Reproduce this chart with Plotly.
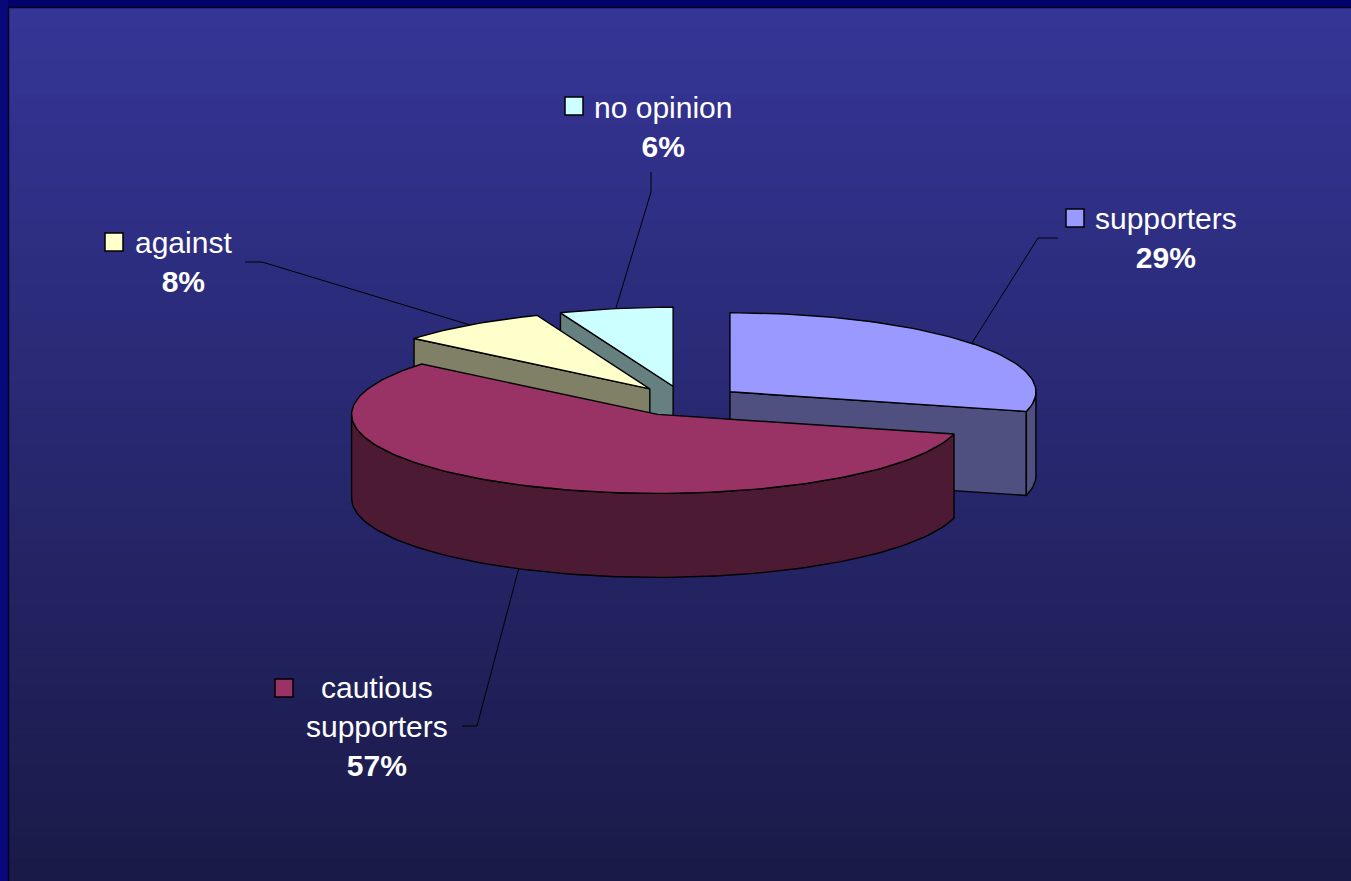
import math
import plotly.graph_objects as go

# ---------------- data ----------------
categories = ["supporters", "cautious<br>supporters", "against", "no opinion"]
values = [29, 57, 8, 6]

# ---------------- style ----------------
top_colors = ["#9999FF", "#993366", "#FFFFCC", "#CCFFFF"]
side_colors = ["#4F4F80", "#4D1A33", "#808066", "#668080"]

W, H = 1351, 881
CX, CY = 684, 401          # pie centre (pixels)
RX, RY = 306, 79           # ellipse radii
DEPTH = 84                 # thickness
EXPLODE = 0.19
FONT = "Liberation Sans, Arial, sans-serif"

# label layout: text block centre, legend-key top-left, leader start, leader elbow
label_layout = {
    "supporters": dict(c=(1166, 238), box=(1066, 209), start=(1058, 238), elbow=(1038, 238)),
    "cautious<br>supporters": dict(c=(377, 726), box=(275, 679), start=(462, 726), elbow=(477, 726)),
    "against": dict(c=(183, 262), box=(105, 233), start=(245, 262), elbow=(262, 262)),
    "no opinion": dict(c=(663, 127), box=(565, 97), start=(651, 172), elbow=(651, 192)),
}

fig = go.Figure()

# ---------------- background ----------------
shapes = []
top_rgb = (0x35, 0x35, 0x97)
bot_rgb = (0x1A, 0x1A, 0x48)
N = 120
y0, y1 = 8, H
for i in range(N):
    t = i / (N - 1)
    col = tuple(int(round(a + (b - a) * t)) for a, b in zip(top_rgb, bot_rgb))
    ya = y0 + (y1 - y0) * i / N
    yb = y0 + (y1 - y0) * (i + 1) / N + 1
    shapes.append(dict(type="rect", xref="x", yref="y", x0=9, x1=W, y0=ya, y1=yb,
                       fillcolor="rgb(%d,%d,%d)" % col, line=dict(width=0), layer="below"))
shapes.append(dict(type="rect", xref="x", yref="y", x0=0, x1=W, y0=0, y1=7,
                   fillcolor="#02026A", line=dict(width=0), layer="below"))
shapes.append(dict(type="rect", xref="x", yref="y", x0=0, x1=8, y0=0, y1=H,
                   fillcolor="#08087A", line=dict(width=0), layer="below"))
shapes.append(dict(type="line", xref="x", yref="y", x0=8.5, x1=8.5, y0=7.5, y1=H,
                   line=dict(color="#000020", width=1.5), layer="below"))
shapes.append(dict(type="line", xref="x", yref="y", x0=8.5, x1=W, y0=7.5, y1=7.5,
                   line=dict(color="#000020", width=1.5), layer="below"))


# ---------------- 3D pie geometry (derived from values) ----------------
def pt(cx, cy, a, dz=0.0):
    r = math.radians(a)
    return cx + RX * math.sin(r), cy - RY * math.cos(r) + dz


def arc(cx, cy, a0, a1, dz=0.0, n=None):
    if n is None:
        n = max(4, int(abs(a1 - a0) / 1.5))
    return [pt(cx, cy, a0 + (a1 - a0) * k / n, dz) for k in range(n + 1)]


def poly(points, fill):
    xs = [p[0] for p in points] + [points[0][0]]
    ys = [p[1] for p in points] + [points[0][1]]
    fig.add_trace(go.Scatter(x=xs, y=ys, mode="lines", fill="toself", fillcolor=fill,
                             line=dict(color="black", width=1.4), hoverinfo="skip",
                             showlegend=False))


total = sum(values)
slices = []
acc = 0.0
for i, v in enumerate(values):
    a0 = acc / total * 360
    acc += v
    a1 = acc / total * 360
    m = (a0 + a1) / 2
    rm = math.radians(m)
    cx = CX + EXPLODE * RX * math.sin(rm)
    cy = CY - EXPLODE * RY * math.cos(rm)
    slices.append(dict(i=i, a0=a0, a1=a1, m=m, cx=cx, cy=cy))

# painter's order: back slices first (by how far back their centre sits)
order = sorted(slices, key=lambda s: s["cy"])
for s in order:
    i, a0, a1, cx, cy = s["i"], s["a0"], s["a1"], s["cx"], s["cy"]
    # radial faces
    for a, normal in ((a0, a0 - 90), (a1, a1 + 90)):
        if math.cos(math.radians(normal)) < -1e-6:
            p = pt(cx, cy, a)
            poly([(cx, cy), p, (p[0], p[1] + DEPTH), (cx, cy + DEPTH)], side_colors[i])
    # outer curved side (front half 90..270)
    lo, hi = max(a0, 90), min(a1, 270)
    if hi > lo:
        topa = arc(cx, cy, lo, hi)
        bota = arc(cx, cy, lo, hi, DEPTH)
        poly(topa + bota[::-1], side_colors[i])
    # top face
    poly([(cx, cy)] + arc(cx, cy, a0, a1), top_colors[i])

# ---------------- labels, legend keys and leader lines ----------------
annotations = []
for s in slices:
    i = s["i"]
    name = categories[i]
    L = label_layout[name]
    pct = round(values[i] / total * 100)
    annotations.append(dict(x=L["c"][0], y=L["c"][1], xref="x", yref="y",
                            text="%s<br><b>%d%%</b>" % (name, pct), showarrow=False,
                            xanchor="center", yanchor="middle", align="center",
                            font=dict(family=FONT, size=30, color="white")))
    bx, by = L["box"]
    shapes.append(dict(type="rect", xref="x", yref="y", x0=bx, x1=bx + 18, y0=by, y1=by + 18,
                       fillcolor=top_colors[i], line=dict(color="black", width=1.5)))
    # anchor on the slice rim at mid angle (bottom rim if on front half)
    ax, ay = pt(s["cx"], s["cy"], s["m"])
    if math.cos(math.radians(s["m"])) < 0:
        ay += DEPTH
    fig.add_trace(go.Scatter(x=[L["start"][0], L["elbow"][0], ax],
                             y=[L["start"][1], L["elbow"][1], ay],
                             mode="lines", line=dict(color="black", width=1),
                             hoverinfo="skip", showlegend=False))

fig.update_layout(
    width=W, height=H, margin=dict(l=0, r=0, t=0, b=0),
    paper_bgcolor="#1A1A48", plot_bgcolor="rgba(0,0,0,0)",
    xaxis=dict(range=[0, W], visible=False, fixedrange=True),
    yaxis=dict(range=[H, 0], visible=False, fixedrange=True),
    shapes=shapes, annotations=annotations, showlegend=False,
)

fig.write_html("out.html", config={"displayModeBar": False},
               post_script="document.body.style.margin='0';document.body.style.overflow='hidden';")
